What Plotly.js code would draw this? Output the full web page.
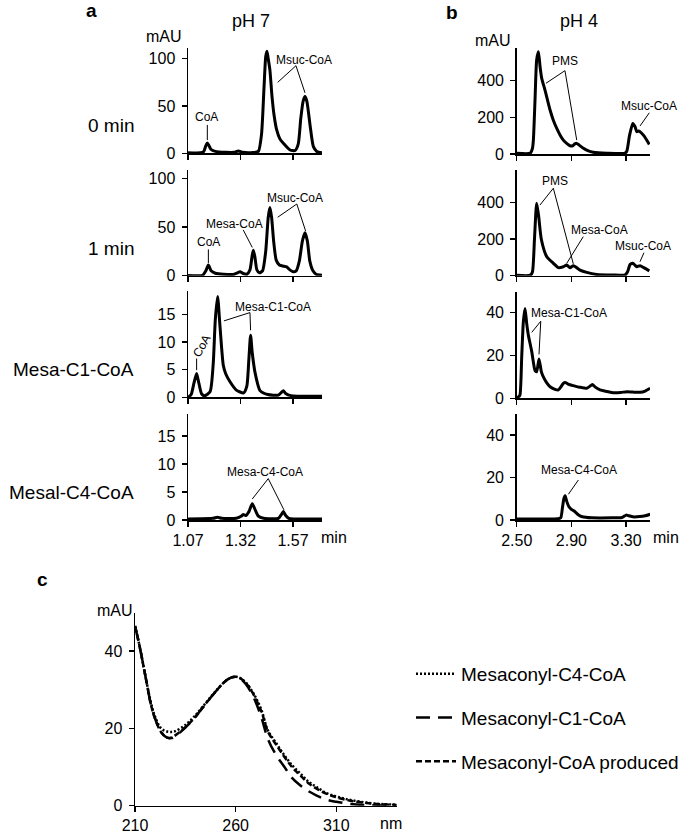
<!DOCTYPE html>
<html>
<head>
<meta charset="utf-8">
<script src="https://cdn.plot.ly/plotly-3.0.1.min.js"></script>
<style>html,body{margin:0;padding:0;background:#fff;}#chart{width:700px;height:835px;}</style>
</head>
<body>
<div id="chart"></div>
<script>
// ---------- DATA ----------
// Panel a, pH 7 (retention time in min, absorbance in mAU)
const a1_t = [1.07,1.13,1.145,1.155,1.162,1.170,1.18,1.20,1.25,1.29,1.31,1.33,1.38,1.405,1.42,1.432,1.440,1.446,1.452,1.46,1.47,1.48,1.492,1.508,1.524,1.556,1.58,1.595,1.607,1.618,1.627,1.636,1.651,1.667,1.683,1.708];
const a1_v = [0.5,0.5,2,8,11,8,4,2,1,1,2.5,1,0.8,2,20,70,102,108,100,88,60,40,25,15,10.5,3.5,3,10,37,55,60,55,30,7,2,0.5];
const a2_t = [1.07,1.14,1.155,1.167,1.18,1.20,1.24,1.29,1.305,1.318,1.33,1.35,1.365,1.375,1.381,1.388,1.398,1.41,1.425,1.44,1.452,1.46,1.468,1.478,1.49,1.505,1.52,1.54,1.555,1.57,1.585,1.60,1.615,1.627,1.638,1.65,1.665,1.68,1.708];
const a2_v = [0.3,0.5,5,11,5,2.5,1.5,1.5,3,4,2.5,1.5,6,20,26,20,6,3,5,25,60,70,60,35,16,11,10,9,6,4,5,15,36,44,36,15,5,1.5,0.5];
const a3_t = [1.07,1.085,1.098,1.111,1.122,1.135,1.15,1.175,1.19,1.2,1.211,1.222,1.238,1.25,1.27,1.30,1.335,1.35,1.36,1.368,1.376,1.389,1.413,1.45,1.50,1.515,1.524,1.535,1.56,1.708];
const a3_v = [0,0.5,2.5,4.3,2.5,0.6,0.3,1,6,14,18.2,13,5.8,4.2,2.8,1.3,0.8,2,7,11.2,8,4.5,1.2,0.5,0.4,0.9,1.2,0.7,0.3,0.2];
const a4_t = [1.07,1.19,1.21,1.23,1.30,1.325,1.333,1.345,1.36,1.376,1.39,1.405,1.43,1.50,1.515,1.524,1.535,1.55,1.708];
const a4_v = [0.2,0.3,0.5,0.3,0.3,0.7,1.0,0.8,1.5,2.9,1.8,0.7,0.3,0.3,1.0,1.5,0.8,0.3,0.2];
// Panel b, pH 4
const b1_t = [2.50,2.60,2.615,2.622,2.634,2.646,2.659,2.671,2.683,2.707,2.744,2.77,2.793,2.82,2.841,2.87,2.89,2.91,2.925,2.939,2.955,2.988,3.02,3.06,3.16,3.29,3.305,3.325,3.349,3.365,3.378,3.39,3.402,3.43,3.47];
const b1_v = [4,5,30,76,295,513,558,476,413,349,240,180,140,100,76,55,45,45,55,58,50,31,18,9,4,4,15,100,167,150,122,125,122,100,52];
const b2_t = [2.50,2.60,2.615,2.63,2.646,2.66,2.68,2.72,2.768,2.805,2.841,2.866,2.89,2.915,2.963,3.012,3.085,3.20,3.293,3.31,3.33,3.349,3.365,3.378,3.402,3.43,3.47];
const b2_v = [2,3,20,200,397,330,200,104,68,44,49,58,44,55,31,18,7,4,4,20,62,68,58,49,55,44,26];
const b3_t = [2.50,2.515,2.524,2.537,2.549,2.561,2.573,2.585,2.61,2.634,2.646,2.663,2.68,2.695,2.72,2.744,2.78,2.805,2.825,2.841,2.854,2.88,2.915,2.96,3.012,3.037,3.053,3.075,3.11,3.16,3.207,3.26,3.305,3.35,3.402,3.44,3.476];
const b3_v = [0.5,0.8,1.6,20,36,42,35,29.6,21.8,13,12.4,18.4,12.5,10,7.2,5.4,4.2,3.9,5.5,7,7.4,6.5,5.9,5.2,4.7,5.7,6.5,5.2,3.9,3.2,2.6,2.7,3.1,2.9,2.8,3.4,4.7];
const b4_t = [2.50,2.70,2.80,2.822,2.835,2.845,2.854,2.865,2.88,2.90,2.92,2.95,2.98,3.05,3.20,3.27,3.30,3.32,3.35,3.40,3.44,3.476];
const b4_v = [0.5,0.5,0.6,1,6,10,11.4,9,6.5,5,4.2,2.5,1.5,1,1,1.2,2.3,2,1.5,1.6,2,2.7];
// Panel c, UV spectra (nm, mAU)
const c_nm = [210,212,215,218,220,223,226,228,230,235,240,245,250,255,258,260,262,265,268,270,273,276,280,284,288,292,296,300,305,310,315,320,325,330,335,340];
const c_C4 = [46.5,42,34,26.5,23,20,19.2,19.1,19.3,20.9,23.4,26.5,29.6,32.3,33.2,33.4,33.1,31.9,29.8,28.0,24.5,19.5,16.3,13.2,10.5,8.4,6.3,4.9,3.3,2.4,1.7,1.2,0.8,0.5,0.35,0.25];
const c_C1 = [46.5,42,34,26,22.5,19,17.6,17.5,18.0,20.2,23.0,26.3,29.5,32.3,33.2,33.4,33.0,31.5,29.0,26.8,22.5,17.3,13.2,10.2,7.2,5.3,3.8,2.7,1.6,1.0,0.6,0.3,0.15,0.1,0.05,0.05];
const c_prod = [46.5,42,34,26,22.5,19,17.6,17.6,18.2,20.3,23.0,26.3,29.5,32.3,33.2,33.4,33.1,31.8,29.6,27.6,24.1,19.2,15.9,12.8,10.0,7.9,5.9,4.5,3.1,2.2,1.5,1.0,0.7,0.45,0.3,0.2];
const seriesNamesC = ['Mesaconyl-C4-CoA','Mesaconyl-C1-CoA','Mesaconyl-CoA produced'];
// Tick labels
const tickValsA = [1.07,1.32,1.57], tickTextA = ['1.07','1.32','1.57'];
const tickValsB = [2.50,2.90,3.30], tickTextB = ['2.50','2.90','3.30'];
const yTicksA12 = [0,50,100], yTicksA34 = [0,5,10,15];
const yTicksB12 = [0,200,400], yTicksB34 = [0,20,40];
const xTicksC = [210,260,310], yTicksC = [0,20,40];
const rowLabels = ['0 min','1 min','Mesa-C1-CoA','Mesal-C4-CoA'];

// ---------- LAYOUT HELPERS ----------
const W = 700, H = 835;
const FONT = 'Liberation Sans, Arial, Helvetica, sans-serif';
const px = x => x / W;
const py = y => 1 - y / H;
const dom = (top, bottom) => [1 - bottom / H, 1 - top / H];

function xax(domain, range, anchor, vals, text, showLabels) {
  return {domain: domain, range: range, anchor: anchor, showline: true, linewidth: 1.5, linecolor: '#000',
    ticks: 'outside', ticklen: 5, tickwidth: 1.5, tickcolor: '#000', tickvals: vals, ticktext: text,
    showticklabels: showLabels, showgrid: false, zeroline: false, fixedrange: true,
    tickfont: {family: FONT, size: 16, color: '#000'}};
}
function yax(domain, range, anchor, vals) {
  return {domain: domain, range: range, anchor: anchor, showline: true, linewidth: 1.5, linecolor: '#000',
    ticks: 'outside', ticklen: 5, tickwidth: 1.5, tickcolor: '#000', tickvals: vals,
    showgrid: false, zeroline: false, fixedrange: true, ticklabelstandoff: 3,
    tickfont: {family: FONT, size: 16, color: '#000'}};
}

const chromLine = {color: '#000', width: 3, shape: 'spline', smoothing: 0.6};
function chrom(t, v, xa, ya) {
  return {x: t, y: v, xaxis: xa, yaxis: ya, type: 'scatter', mode: 'lines', line: chromLine,
    showlegend: false, hoverinfo: 'skip'};
}

const traces = [
  chrom(a1_t, a1_v, 'x', 'y'),
  chrom(a2_t, a2_v, 'x2', 'y2'),
  chrom(a3_t, a3_v, 'x3', 'y3'),
  chrom(a4_t, a4_v, 'x4', 'y4'),
  chrom(b1_t, b1_v, 'x5', 'y5'),
  chrom(b2_t, b2_v, 'x6', 'y6'),
  chrom(b3_t, b3_v, 'x7', 'y7'),
  chrom(b4_t, b4_v, 'x8', 'y8'),
  {x: c_nm, y: c_C4, xaxis: 'x9', yaxis: 'y9', type: 'scatter', mode: 'lines', name: seriesNamesC[0],
   legendgroup: 'g1', line: {color: '#000', width: 2.5, dash: '2px,2px', shape: 'spline'}},
  {x: c_nm, y: c_C1, xaxis: 'x9', yaxis: 'y9', type: 'scatter', mode: 'lines', name: seriesNamesC[1],
   legendgroup: 'g2', line: {color: '#000', width: 2.5, dash: '14px,8px', shape: 'spline'}},
  {x: c_nm, y: c_prod, xaxis: 'x9', yaxis: 'y9', type: 'scatter', mode: 'lines', name: seriesNamesC[2],
   legendgroup: 'g3', line: {color: '#000', width: 2.5, dash: '6px,3px', shape: 'spline'}}
];

const xDomA = [px(188), px(322)], xDomB = [px(516.7), px(650)], xDomC = [px(135), px(396.7)];
const rA = [1.07, 1.708], rB = [2.50, 3.475];

const layout = {
  width: W, height: H, margin: {l: 0, r: 0, t: 0, b: 0},
  paper_bgcolor: '#fff', plot_bgcolor: 'rgba(0,0,0,0)',
  font: {family: FONT, color: '#000'},
  showlegend: true,
  legend: {x: px(411), y: py(655), xanchor: 'left', yanchor: 'top', bgcolor: 'rgba(0,0,0,0)',
    font: {family: FONT, size: 19, color: '#000'}, tracegroupgap: 16, traceorder: 'grouped', itemwidth: 40},
  xaxis: xax(xDomA, rA, 'y', tickValsA, tickTextA, false),
  yaxis: yax(dom(48.3, 153.3), [0, 111], 'x', yTicksA12),
  xaxis2: xax(xDomA, rA, 'y2', tickValsA, tickTextA, false),
  yaxis2: yax(dom(170, 275.7), [0, 108.5], 'x2', yTicksA12),
  xaxis3: xax(xDomA, rA, 'y3', tickValsA, tickTextA, false),
  yaxis3: yax(dom(291, 397.3), [0, 19.2], 'x3', yTicksA34),
  xaxis4: xax(xDomA, rA, 'y4', tickValsA, tickTextA, true),
  yaxis4: yax(dom(414.3, 520), [0, 18.9], 'x4', yTicksA34),
  xaxis5: xax(xDomB, rB, 'y5', tickValsB, tickTextB, false),
  yaxis5: yax(dom(48.3, 154), [0, 577], 'x5', yTicksB12),
  xaxis6: xax(xDomB, rB, 'y6', tickValsB, tickTextB, false),
  yaxis6: yax(dom(170, 275.7), [0, 579], 'x6', yTicksB12),
  xaxis7: xax(xDomB, rB, 'y7', tickValsB, tickTextB, false),
  yaxis7: yax(dom(291.7, 398.3), [0, 49.8], 'x7', yTicksB34),
  xaxis8: xax(xDomB, rB, 'y8', tickValsB, tickTextB, true),
  yaxis8: yax(dom(414.3, 520), [0, 49.7], 'x8', yTicksB34),
  xaxis9: xax(xDomC, [210, 340], 'y9', xTicksC, xTicksC.map(String), true),
  yaxis9: yax(dom(613.3, 805.7), [0, 49.8], 'x9', yTicksC),
  annotations: [],
  shapes: []
};

function ptxt(text, x, y, size, opts) {
  return Object.assign({text: text, x: px(x), y: py(y), xref: 'paper', yref: 'paper', showarrow: false,
    xanchor: 'center', yanchor: 'middle', font: {family: FONT, size: size, color: '#000'}}, opts || {});
}
function dtxt(text, xa, ya, x, y, opts) {
  return Object.assign({text: text, x: x, y: y, xref: xa, yref: ya, showarrow: false,
    xanchor: 'center', yanchor: 'middle', font: {family: FONT, size: 12, color: '#000'}}, opts || {});
}
function seg(xa, ya, x0, y0, x1, y1) {
  return {type: 'line', xref: xa, yref: ya, x0: x0, y0: y0, x1: x1, y1: y1, line: {color: '#000', width: 1}};
}

layout.annotations.push(
  ptxt('<b>a</b>', 91.5, 10.5, 19),
  ptxt('<b>b</b>', 452, 12, 19),
  ptxt('<b>c</b>', 42, 579, 19),
  ptxt('pH 7', 251, 21, 18),
  ptxt('pH 4', 579, 21, 18),
  ptxt('mAU', 163.5, 37, 16),
  ptxt('mAU', 492.5, 41, 16),
  ptxt('mAU', 115, 610, 16),
  ptxt('min', 333.5, 537.5, 16),
  ptxt('min', 666, 537.5, 16),
  ptxt('nm', 391, 823, 16),
  ptxt(rowLabels[0], 136, 126, 19, {xanchor: 'right'}),
  ptxt(rowLabels[1], 136, 248, 19, {xanchor: 'right'}),
  ptxt(rowLabels[2], 136, 370, 19, {xanchor: 'right'}),
  ptxt(rowLabels[3], 136, 492, 19, {xanchor: 'right'}),
  // peak labels
  dtxt('CoA', 'x', 'y', 1.160, 38.9),
  dtxt('Msuc-CoA', 'x', 'y', 1.62, 98.6),
  dtxt('Msuc-CoA', 'x2', 'y2', 1.581, 79.8),
  dtxt('Mesa-CoA', 'x2', 'y2', 1.292, 53),
  dtxt('CoA', 'x2', 'y2', 1.167, 34.6),
  dtxt('CoA', 'x3', 'y3', 1.135, 9.3, {textangle: -60}),
  dtxt('Mesa-C1-CoA', 'x3', 'y3', 1.475, 16.4),
  dtxt('Mesa-C4-CoA', 'x4', 'y4', 1.438, 8.6),
  dtxt('PMS', 'x5', 'y5', 2.851, 505),
  dtxt('Msuc-CoA', 'x5', 'y5', 3.465, 262),
  dtxt('PMS', 'x6', 'y6', 2.78, 519),
  dtxt('Mesa-CoA', 'x6', 'y6', 3.107, 253),
  dtxt('Msuc-CoA', 'x6', 'y6', 3.423, 163),
  dtxt('Mesa-C1-CoA', 'x7', 'y7', 2.886, 40),
  dtxt('Mesa-C4-CoA', 'x8', 'y8', 2.954, 23.3)
);

layout.shapes.push(
  seg('x','y',1.162,30,1.162,14),
  seg('x','y',1.584,92.6,1.497,75), seg('x','y',1.584,92.6,1.627,64),
  seg('x2','y2',1.588,73.6,1.497,60), seg('x2','y2',1.588,73.6,1.63,45.9),
  seg('x2','y2',1.333,47,1.376,29),
  seg('x2','y2',1.167,27,1.167,13),
  seg('x3','y3',1.111,7,1.111,4.9),
  seg('x3','y3',1.365,15.3,1.241,13.8), seg('x3','y3',1.365,15.3,1.368,12.1),
  seg('x4','y4',1.452,7.4,1.376,3.75), seg('x4','y4',1.452,7.4,1.527,1.8),
  seg('x5','y5',2.853,455,2.714,386), seg('x5','y5',2.853,455,2.939,76),
  seg('x5','y5',3.47,225,3.402,153),
  seg('x6','y6',2.768,479,2.67,387), seg('x6','y6',2.768,479,2.914,65),
  seg('x6','y6',2.987,214,2.866,68),
  seg('x6','y6',3.431,126,3.402,77),
  seg('x7','y7',2.676,36,2.61,30.8), seg('x7','y7',2.676,36,2.663,20.5),
  seg('x8','y8',2.951,18.8,2.878,12.1)
);

Plotly.newPlot('chart', traces, layout, {staticPlot: true, displayModeBar: false});
</script>
</body>
</html>
